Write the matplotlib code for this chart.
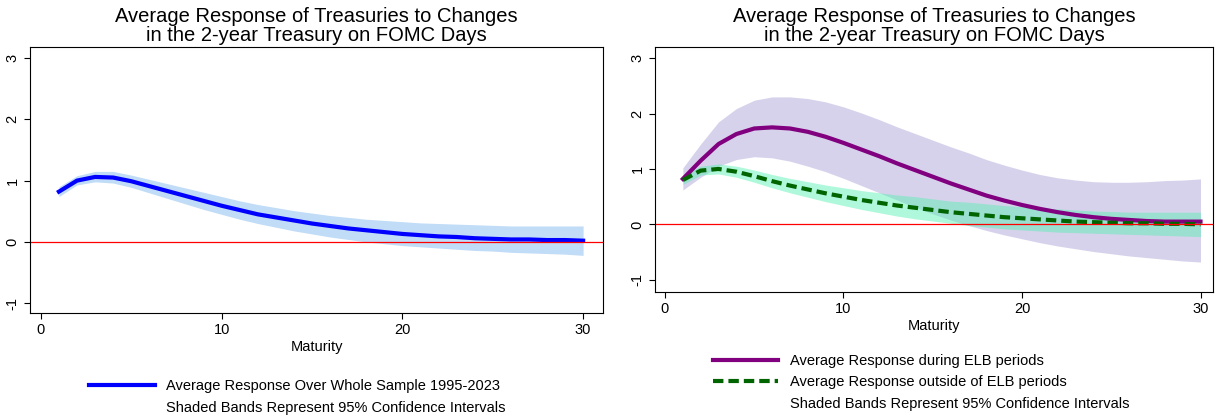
import matplotlib.pyplot as plt

maturity = list(range(1, 31))

# whole sample
whole = [0.82, 1.00, 1.06, 1.05, 0.99, 0.91, 0.83, 0.75, 0.67, 0.59, 0.52, 0.45, 0.40, 0.35, 0.30,
         0.26, 0.22, 0.19, 0.16, 0.13, 0.11, 0.09, 0.08, 0.06, 0.05, 0.04, 0.04, 0.03, 0.03, 0.02]
whole_lo = [0.74, 0.93, 0.98, 0.96, 0.89, 0.80, 0.71, 0.62, 0.53, 0.45, 0.37, 0.30, 0.24, 0.18, 0.13,
            0.08, 0.04, 0.00, -0.03, -0.06, -0.08, -0.10, -0.12, -0.14, -0.15, -0.17, -0.18, -0.19, -0.20, -0.22]
whole_hi = [0.90, 1.08, 1.15, 1.15, 1.09, 1.02, 0.95, 0.88, 0.81, 0.74, 0.67, 0.61, 0.56, 0.51, 0.47,
            0.43, 0.40, 0.37, 0.35, 0.33, 0.31, 0.30, 0.29, 0.28, 0.27, 0.26, 0.26, 0.26, 0.26, 0.26]

# ELB periods
elb = [0.82, 1.15, 1.45, 1.63, 1.73, 1.75, 1.73, 1.67, 1.58, 1.47, 1.35, 1.23, 1.10, 0.98, 0.86,
       0.74, 0.63, 0.52, 0.43, 0.35, 0.28, 0.22, 0.17, 0.13, 0.10, 0.08, 0.06, 0.05, 0.05, 0.05]
elb_lo = [0.62, 0.85, 1.05, 1.17, 1.22, 1.20, 1.14, 1.05, 0.95, 0.83, 0.70, 0.57, 0.44, 0.31, 0.19,
          0.08, -0.02, -0.11, -0.19, -0.26, -0.33, -0.39, -0.44, -0.49, -0.53, -0.57, -0.60, -0.63, -0.66, -0.68]
elb_hi = [1.02, 1.45, 1.85, 2.09, 2.24, 2.30, 2.30, 2.27, 2.21, 2.12, 2.01, 1.89, 1.76, 1.64, 1.52,
          1.40, 1.29, 1.17, 1.07, 0.98, 0.90, 0.84, 0.80, 0.77, 0.76, 0.76, 0.77, 0.79, 0.80, 0.82]

# outside ELB
nelb = [0.80, 0.97, 1.00, 0.95, 0.87, 0.78, 0.70, 0.63, 0.56, 0.50, 0.44, 0.39, 0.34, 0.30, 0.26,
        0.22, 0.19, 0.16, 0.13, 0.11, 0.09, 0.07, 0.05, 0.04, 0.03, 0.02, 0.02, 0.01, 0.01, 0.00]
nelb_lo = [0.72, 0.89, 0.91, 0.85, 0.76, 0.66, 0.57, 0.49, 0.41, 0.34, 0.27, 0.21, 0.15, 0.10, 0.06,
           0.02, -0.02, -0.05, -0.08, -0.10, -0.12, -0.14, -0.15, -0.16, -0.17, -0.18, -0.19, -0.20, -0.21, -0.22]
nelb_hi = [0.88, 1.05, 1.09, 1.05, 0.98, 0.90, 0.83, 0.77, 0.71, 0.66, 0.61, 0.57, 0.53, 0.50, 0.46,
           0.42, 0.40, 0.37, 0.34, 0.32, 0.30, 0.28, 0.26, 0.24, 0.23, 0.22, 0.22, 0.22, 0.22, 0.22]

plt.rcParams['font.family'] = 'Liberation Sans'
fig = plt.figure(figsize=(12.22, 4.17), dpi=100)
title = "Average Response of Treasuries to Changes\nin the 2-year Treasury on FOMC Days"


def style(ax):
    ax.set_xticks([0, 10, 20, 30])
    ax.set_yticks([-1, 0, 1, 2, 3])
    ax.set_yticklabels(['-1', '0', '1', '2', '3'], rotation=90, va='center')
    ax.tick_params(labelsize=10.5, length=4)
    ax.set_xlabel("Maturity", fontsize=10.5, labelpad=2)
    ax.set_title(title, fontsize=14.5, linespacing=1.0, pad=4)
    ax.axhline(0, color='red', lw=0.9)


ax1 = fig.add_axes([30 / 1222, 1 - 313 / 417, 573 / 1222, 266 / 417])
ax1.fill_between(maturity, whole_lo, whole_hi, color='#c0dcf7', lw=0)
ax1.plot(maturity, whole, color='blue', lw=3)
ax1.set_xlim(-0.6, 31.1)
ax1.set_ylim(-1.16, 3.18)
style(ax1)
ax1.legend([plt.Line2D([], [], color='blue', lw=3), plt.Line2D([], [], lw=0)],
           ["Average Response Over Whole Sample 1995-2023", "Shaded Bands Represent 95% Confidence Intervals"],
           loc='upper left', bbox_to_anchor=(0.08, -0.2), frameon=False, fontsize=10.5,
           handlelength=4.5, labelspacing=0.5)

ax2 = fig.add_axes([655 / 1222, 1 - 292 / 417, 558 / 1222, 245 / 417])
ax2.fill_between(maturity, elb_lo, elb_hi, color='#8d80c8', alpha=0.35, lw=0)
ax2.fill_between(maturity, nelb_lo, nelb_hi, color='#50f0b0', alpha=0.45, lw=0)
ax2.plot(maturity, elb, color='#800080', lw=3)
ax2.plot(maturity, nelb, color='#006400', lw=3, ls=(0, (2.5, 1.2)))
ax2.set_xlim(-0.56, 30.7)
ax2.set_ylim(-1.22, 3.2)
style(ax2)
ax2.legend([plt.Line2D([], [], color='#800080', lw=3),
            plt.Line2D([], [], color='#006400', lw=3, ls=(0, (2.5, 1.2))),
            plt.Line2D([], [], lw=0)],
           ["Average Response during ELB periods", "Average Response outside of ELB periods",
            "Shaded Bands Represent 95% Confidence Intervals"],
           loc='upper left', bbox_to_anchor=(0.08, -0.2), frameon=False, fontsize=10.5,
           handlelength=4.5, labelspacing=0.5)

fig.savefig('out.png')
